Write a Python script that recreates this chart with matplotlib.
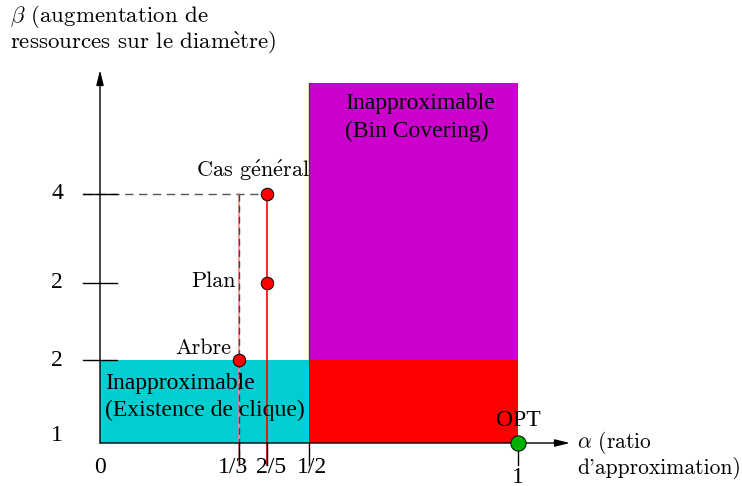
import matplotlib
matplotlib.use('Agg')
import matplotlib.pyplot as plt
from matplotlib.patches import Rectangle

plt.rcParams['mathtext.fontset'] = 'cm'

# axis values (alpha = approximation ratio, beta = schematic levels)
alpha_ticks = [0, 1/3, 2/5, 1/2, 1]
alpha_labels = ['0', '1/3', '2/5', '1/2', '1']
beta_pos = [0, 0.83, 1.60, 2.49]
beta_labels = ['1', '2', '2', '4']

# known results
cases = ['Arbre', 'Plan', r'Cas g$\mathrm{\acute{e}}$n$\mathrm{\acute{e}}$ral']
case_alpha = [1/3, 2/5, 2/5]
case_beta = [0.83, 1.60, 2.49]

# regions: (x0, x1, y0, y1, colour)
regions = [
    (0, 1/2, 0, 0.83, '#00CED1'),
    (1/2, 1, 0, 0.83, '#FF0000'),
    (1/2, 1, 0.83, 3.60, '#CC00CC'),
]

serif = 'Liberation Serif'
cm = 'cmr10'
sx = 418  # px per alpha unit


def px(x):
    # pixel column -> alpha coordinate (for text placement only)
    return (x - 100) / sx


fig = plt.figure(figsize=(7.42, 4.86), dpi=100)
ax = fig.add_axes([0, 0, 1, 1])
ax.set_xlim(px(0), px(742))
ax.set_ylim(-0.43, 4.43)
ax.axis('off')

# coloured regions
for x0, x1, y0, y1, c in regions:
    ax.add_patch(Rectangle((x0, y0), x1 - x0, y1 - y0, facecolor=c, edgecolor='none', zorder=1))
ax.plot([1/2, 1/2], [0.83, 3.60], color='#5a3a1a', lw=1, zorder=2)

# axes with arrows
arrow = dict(arrowstyle='-|>,head_length=0.9,head_width=0.22', color='black', lw=1,
             shrinkA=0, shrinkB=0)
ax.annotate('', xy=(px(570), 0), xytext=(0, 0), arrowprops=arrow, zorder=3)
ax.annotate('', xy=(0, 3.73), xytext=(0, 0), arrowprops=arrow, zorder=3)

# y ticks
tk = 17 / sx
for yp, lab in zip(beta_pos, beta_labels):
    if yp > 0:
        ax.plot([-tk, tk], [yp, yp], color='black', lw=1, zorder=3)
        ax.text(px(57), yp, lab, fontsize=17, family=serif, ha='center', va='center')
    else:
        ax.text(px(57), yp + 0.08, lab, fontsize=17, family=serif, ha='center', va='center')

# x ticks (labels nudged sideways so 1/3 and 2/5 don't collide)
nudge = [0, -6, 4, 3, 0]
for xp, lab, dx in zip(alpha_ticks, alpha_labels, nudge):
    if xp > 0:
        ax.plot([xp, xp], [0, -0.22], color='black', lw=1, zorder=3)
    yl = -0.34 if xp == 1 else -0.24
    ax.text(xp + dx / sx, yl, lab, fontsize=17, family=serif, ha='center', va='center')

# guide lines
ax.plot([-tk, case_alpha[2]], [case_beta[2], case_beta[2]], color='#555555', lw=1,
        dashes=(6, 4), zorder=2)
ax.plot([case_alpha[0], case_alpha[0]], [case_beta[2], -0.22], color='#ff8080', lw=1.2, zorder=2)
ax.plot([case_alpha[0], case_alpha[0]], [case_beta[2], -0.22], color='#444444', lw=1,
        dashes=(5, 3), zorder=2)
ax.plot([case_alpha[1], case_alpha[1]], [case_beta[2], -0.22], color='red', lw=1.2, zorder=2)

# points
ax.plot(case_alpha, case_beta, 'o', color='red', markeredgecolor='black', markeredgewidth=0.7,
        markersize=9, zorder=4)
ax.plot([1], [0], 'o', color='#00B000', markeredgecolor='black', markeredgewidth=0.7,
        markersize=11, zorder=4)

# case labels
label_pos = [(px(231), 0.95), (px(236), 1.62), (px(310), 2.73)]
for lab, (lx, ly) in zip(cases, label_pos):
    ax.text(lx, ly, lab, fontsize=16, family=cm, ha='right', va='center')

# region labels
ax.text(px(345), 3.39, 'Inapproximable', fontsize=17, family=serif, ha='left', va='center')
ax.text(px(345), 3.12, '(Bin Covering)', fontsize=17, family=serif, ha='left', va='center')
ax.text(px(105), 0.60, 'Inapproximable', fontsize=17, family=serif, ha='left', va='center', zorder=5)
ax.text(px(105), 0.33, '(Existence de clique)', fontsize=17, family=serif, ha='left', va='center', zorder=5)
ax.text(1, 0.23, 'OPT', fontsize=17, family=serif, ha='center', va='center')

# axis titles
ax.text(px(10), 4.26, r'$\beta$ (augmentation de', fontsize=16.5, family=cm, ha='left', va='center')
ax.text(px(10), 4.01, r'ressources sur le diam$\mathrm{\grave{e}}$tre)', fontsize=16.5, family=cm,
        ha='left', va='center')
ax.text(px(577), 0.01, r'$\alpha$ (ratio', fontsize=15.5, family=cm, ha='left', va='center')
ax.text(px(577), -0.25, "d'approximation)", fontsize=15.5, family=cm, ha='left', va='center')

fig.savefig('out.png', dpi=100)
